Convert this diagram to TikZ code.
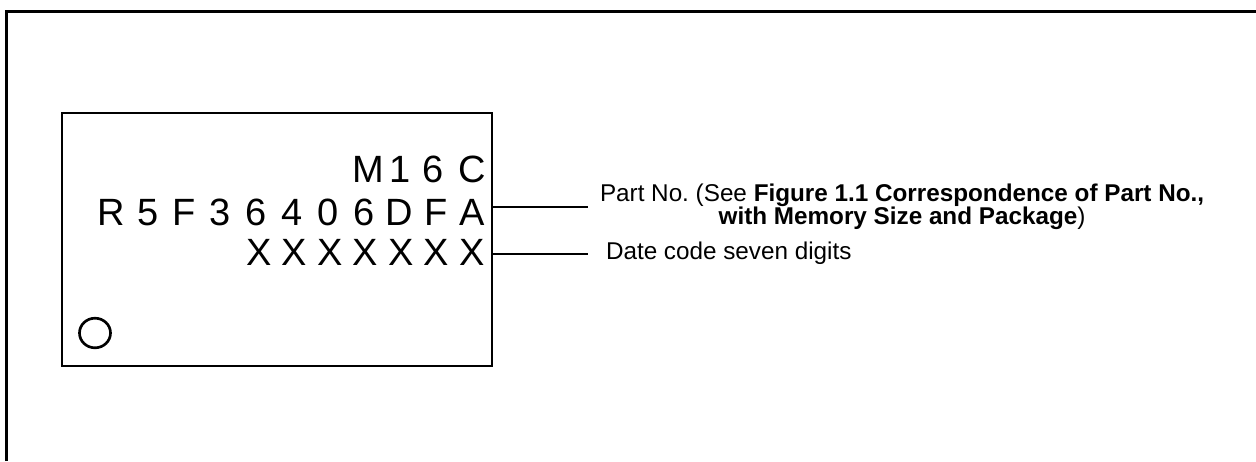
\documentclass[tikz,border=0pt]{standalone}
\usepackage{fontspec}
\setmainfont{Liberation Sans}
\usepackage{tikz}
\usetikzlibrary{positioning}
\tikzset{
  chipchar/.style={text=drawColor,anchor=base,inner sep=0pt,outer sep=0pt,font=\fontsize{28.5}{32}\selectfont},
  leadlabel/.style={text=drawColor,anchor=west,inner sep=0pt,outer sep=0pt,align=center,font=\fontsize{18.2}{17.4}\selectfont},
  leader/.style={draw=drawColor,line width=1.5pt}
}
\begin{document}
\begin{tikzpicture}[x=0.75pt,y=-0.75pt]
\definecolor{fillColor}{RGB}{255,255,255}
\definecolor{drawColor}{RGB}{0,0,0}
\path[use as bounding box,fill=fillColor] (0,0) rectangle (1256,461);
\begin{scope}
\path[draw=drawColor,line width=2.25pt] (6,461) -- (6,11) -- (1256,11);

\node[draw=drawColor,line width=1.5pt,inner sep=0pt,outer sep=0pt,minimum width=322.5pt,minimum height=190pt] (chip) at (277,239.3) {};

\path[draw=drawColor,line width=2pt] (95,333) ellipse [x radius=15.5,y radius=14.8];
\end{scope}
\begin{scope}
\node[chipchar] (m1) at (368,182.7) {M};
\node[chipchar] (m2) at (400,182.7) {1};
\node[chipchar] (m3) at (433,182.7) {6};
\node[chipchar] (m4) at (472,182.7) {C};

\foreach \c [count=\i] in {R,5,F,3,6,4,0,6,D,F,A}
  \node[chipchar] (r\i) at ({111.7+(\i-1)*36},225) {\c};

\foreach \i in {1,...,7}
  \node[chipchar] (x\i) at ({259+(\i-1)*35.5},265.7) {X};
\end{scope}
\begin{scope}
\node[leadlabel] (part) at (600,207) {Part No.\ (See \textbf{Figure 1.1 Correspondence of Part No.,}\\\textbf{with Memory Size and Package})};

\node[leadlabel] (date) at (606,253.5) {Date code seven digits};

\path[leader] (chip.east |- part.west) -- ([xshift=-9pt]part.west);

\path[leader] (chip.east |- date.west) -- ([xshift=-13.5pt]date.west);
\end{scope}
\end{tikzpicture}
\end{document}
